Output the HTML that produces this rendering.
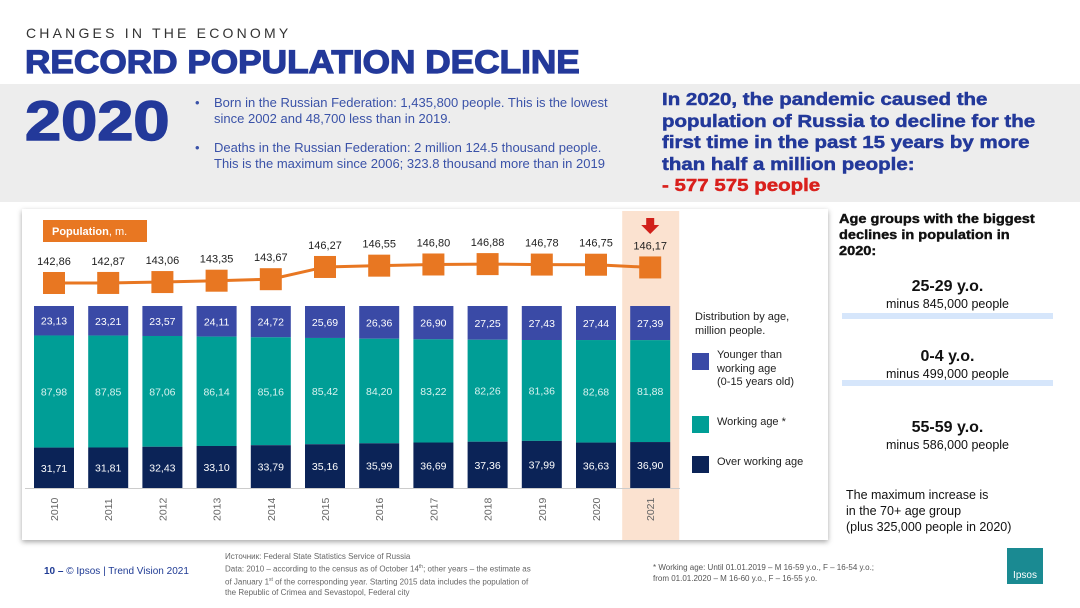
<!DOCTYPE html>
<html><head><meta charset="utf-8"><style>
body{margin:0;width:1080px;height:608px;overflow:hidden;background:#fff;font-family:"Liberation Sans",sans-serif;position:relative}
.a{position:absolute}
.wide{transform-origin:0 0;white-space:nowrap}
</style></head><body>
<div class="a" style="left:26px;top:25px;font-size:14px;letter-spacing:3.2px;color:#333">CHANGES IN THE ECONOMY</div>
<div class="a wide" style="left:25px;top:44px;font-size:32px;font-weight:bold;color:#23399a;transform:scaleX(1.1);-webkit-text-stroke:1.2px #23399a">RECORD POPULATION DECLINE</div>
<div class="a" style="left:0;top:84px;width:1080px;height:118px;background:#ededed"></div>
<div class="a wide" style="left:25px;top:88px;font-size:56px;font-weight:bold;color:#23399a;transform:scaleX(1.16);-webkit-text-stroke:1.5px #23399a">2020</div>
<div class="a" style="left:195px;top:95px;width:440px;font-size:13px;color:#3a52a8;line-height:16px;white-space:nowrap">
<div style="position:relative;padding-left:19px"><span style="position:absolute;left:0">•</span>Born in the Russian Federation: 1,435,800 people. This is the lowest<br>since 2002 and 48,700 less than in 2019.</div>
<div style="position:relative;padding-left:19px;margin-top:13px"><span style="position:absolute;left:0">•</span>Deaths in the Russian Federation: 2 million 124.5 thousand people.<br>This is the maximum since 2006; 323.8 thousand more than in 2019</div></div>
<div class="a wide" style="left:662px;top:89px;font-size:17.5px;font-weight:bold;color:#23399a;line-height:21.5px;transform:scaleX(1.17);-webkit-text-stroke:0.5px #23399a">In 2020, the pandemic caused the<br>population of Russia to decline for the<br>first time in the past 15 years by more<br>than half a million people:<br><span style="color:#d9201c;-webkit-text-stroke:0.5px #d9201c">- 577 575 people</span></div>
<div class="a" style="left:22px;top:209px;width:806px;height:331px;background:#fff;box-shadow:0 2px 5px rgba(0,0,0,.35)"></div>
<svg class="a" style="left:0;top:0" width="1080" height="608" id="chart"></svg>
<div class="a" style="left:695px;top:310px;font-size:11px;color:#222;line-height:14px">Distribution by age,<br>million people.</div>
<div class="a" style="left:692px;top:349px;font-size:11px;color:#222;line-height:13.5px"><span style="position:absolute;left:0;top:4px;width:17px;height:17px;background:#3a4aa6"></span><div style="margin-left:25px">Younger than<br>working age<br>(0-15 years old)</div></div>
<div class="a" style="left:692px;top:416px;font-size:11px;color:#222"><span style="position:absolute;left:0;top:0;width:17px;height:17px;background:#009e96"></span><div style="margin-left:25px;white-space:nowrap">Working age *</div></div>
<div class="a" style="left:692px;top:456px;font-size:11px;color:#222"><span style="position:absolute;left:0;top:0;width:17px;height:17px;background:#0b2357"></span><div style="margin-left:25px;white-space:nowrap">Over working age</div></div>
<div class="a wide" style="left:839px;top:211px;font-size:13px;font-weight:bold;color:#111;line-height:16px;transform:scaleX(1.12);-webkit-text-stroke:0.4px #111">Age groups with the biggest<br>declines in population in<br>2020:</div>
<div class="a" style="left:842px;top:278px;width:211px;text-align:center;color:#111"><div style="font-size:16px;font-weight:bold">25-29 y.o.</div><div style="font-size:12.5px;margin-top:1px">minus 845,000 people</div><div style="height:6px;background:#d6e6fb;margin-top:2px"></div></div>
<div class="a" style="left:842px;top:348px;width:211px;text-align:center;color:#111"><div style="font-size:16px;font-weight:bold">0-4 y.o.</div><div style="font-size:12.5px;margin-top:1px;height:13px;overflow:hidden">minus 499,000 people</div><div style="height:6px;background:#d6e6fb;margin-top:0px"></div></div>
<div class="a" style="left:842px;top:419px;width:211px;text-align:center;color:#111"><div style="font-size:16px;font-weight:bold">55-59 y.o.</div><div style="font-size:12.5px;margin-top:1px">minus 586,000 people</div></div>
<div class="a" style="left:846px;top:487px;font-size:12.5px;color:#111;line-height:16px">The maximum increase is<br>in the 70+ age group<br>(plus 325,000 people in 2020)</div>
<div class="a" style="left:44px;top:566px;font-size:10px;color:#1f3b94"><b>10 –</b> © Ipsos | Trend Vision 2021</div>
<div class="a" style="left:225px;top:551px;font-size:8px;color:#666;line-height:11px">Источник: Federal State Statistics Service of Russia<br>Data: 2010 – according to the census as of October 14<sup style="font-size:5px">th</sup>; other years – the estimate as<br>of January 1<sup style="font-size:5px">st</sup> of the corresponding year. Starting 2015 data includes the population of<br>the Republic of Crimea and Sevastopol, Federal city</div>
<div class="a" style="left:653px;top:562px;font-size:8px;color:#555;line-height:11px">* Working age: Until 01.01.2019 – M 16-59 y.o., F – 16-54 y.o.;<br>from 01.01.2020 – M 16-60 y.o., F – 16-55 y.o.</div>
<div class="a" style="left:1007px;top:548px;width:36px;height:36px;background:#1a8a92;color:#fff;font-size:10px;text-align:center;line-height:56px">Ipsos</div>
<script>
const years=["2010","2011","2012","2013","2014","2015","2016","2017","2018","2019","2020","2021"];
const totals=[142.86,142.87,143.06,143.35,143.67,146.27,146.55,146.80,146.88,146.78,146.75,146.17];
const younger=[23.13,23.21,23.57,24.11,24.72,25.69,26.36,26.90,27.25,27.43,27.44,27.39];
const working=[87.98,87.85,87.06,86.14,85.16,85.42,84.20,83.22,82.26,81.36,82.68,81.88];
const over=[31.71,31.81,32.43,33.10,33.79,35.16,35.99,36.69,37.36,37.99,36.63,36.90];
const fmt=v=>v.toFixed(2).replace('.',',');
const svg=document.getElementById('chart');const NS='http://www.w3.org/2000/svg';
function mk(t,a,txt){const e=document.createElementNS(NS,t);for(const k in a)e.setAttribute(k,a[k]);if(txt!==undefined)e.textContent=txt;svg.appendChild(e);return e;}
const x0=54,step=54.2,bw=40,barTop=306,barBot=488;
const xs=i=>x0+i*step;
const ly=v=>283-(v-142.86)*4.7;
const n=years.length;
let h=mk('rect',{x:xs(n-1)-28,y:211,width:57,height:329,fill:'#fbe2d0'});

let ar=mk('path',{d:`M${xs(n-1)-4} 218h8v7h5l-9 9l-9-9h5z`,fill:'#d1201a'});

let bg=mk('rect',{x:43,y:220,width:104,height:22,fill:'#e87722'});

let bt=mk('text',{x:52,y:235,fill:'#fff','font-size':11,'font-family':'Liberation Sans'});
bt.innerHTML='<tspan font-weight="bold">Population</tspan>, m.';

for(let i=0;i<n;i++){
 const tot=younger[i]+working[i]+over[i],k=(barBot-barTop)/tot,x=xs(i)-bw/2;
 const segs=[[younger[i],'#3a4aa6','younger'],[working[i],'#009e96','working'],[over[i],'#0b2357','over']];
 let y=barTop;
 for(const [v,c,nm] of segs){const hh=v*k;
  const r=mk('rect',{x:x,y:y,width:bw,height:hh,fill:c});
  
  const t=mk('text',{x:xs(i),y:y+hh/2+4,'text-anchor':'middle',fill:nm==='working'?'#d8f2ef':'#fff','font-size':10.5,'font-family':'Liberation Sans'},fmt(v));
  
  y+=hh;}
 const yl=mk('text',{transform:`translate(${xs(i)+4},${521}) rotate(-90)`,fill:'#666','font-size':10.5,'font-family':'Liberation Sans'},years[i]);
 
}
const ax=mk('line',{x1:25,x2:680,y1:488.5,y2:488.5,stroke:'#ccc'});

const pl=mk('polyline',{points:totals.map((v,i)=>xs(i)+','+ly(v)).join(' '),fill:'none',stroke:'#e87722','stroke-width':3});

for(let i=0;i<n;i++){
 const m=mk('rect',{x:xs(i)-11,y:ly(totals[i])-11,width:22,height:22,fill:'#e87722'});
 
 const t=mk('text',{x:xs(i),y:ly(totals[i])-18,'text-anchor':'middle',fill:'#222','font-size':11,'font-family':'Liberation Sans'},fmt(totals[i]));
 
}
</script>
</body></html>
